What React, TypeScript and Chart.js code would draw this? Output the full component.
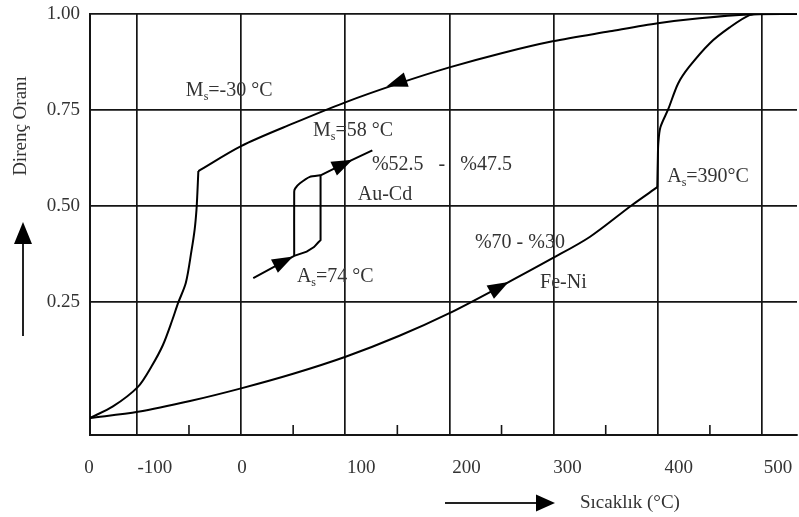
import { useEffect, useRef } from "react";
import { Chart, registerables } from "chart.js";

Chart.register(...registerables);

// ---- axes ----
const xMin = -145;
const xMax = 533.6;
const yMin = -0.0964;
const yMax = 1.0;
const xTickValues = [-145, -100, 0, 100, 200, 300, 400, 500];
const xTickLabels = ["0", "-100", "0", "100", "200", "300", "400", "500"];
const xMinorTicks = [-50, 50, 150, 250, 350, 450];
const yTickValues = [0.25, 0.5, 0.75, 1.0];
const yTickLabels = ["0.25", "0.50", "0.75", "1.00"];
const yTitle = "Direnç Oranı";
const xTitle = "Sıcaklık (°C)";

// ---- series (temperature °C, resistance ratio) ----
// Fe-Ni cooling: upper branch, then the drop below Ms
const feNiCoolingUpper: [number, number][] = [
  [534, 1.0], [488, 0.999], [440, 0.989], [400, 0.976], [354, 0.955],
  [299, 0.929], [250, 0.898], [200, 0.861], [150, 0.818], [100, 0.77],
  [50, 0.715], [0, 0.656], [-41, 0.591],
];
const feNiCoolingDrop: [number, number][] = [
  [-41, 0.591], [-42, 0.53], [-42.8, 0.49], [-44.5, 0.44],
  [-47.5, 0.385], [-53, 0.3], [-60.5, 0.247], [-66, 0.203], [-75, 0.138],
  [-86, 0.082], [-99, 0.029], [-123, -0.022], [-145, -0.052],
];
// Fe-Ni heating: lower branch, then the rise above As
const feNiHeatingLower: [number, number][] = [
  [-145, -0.052], [-99, -0.036], [-49, -0.008], [0, 0.025], [50, 0.063],
  [101, 0.108], [152, 0.162], [200, 0.221], [248, 0.289], [299, 0.364],
  [335, 0.42], [375, 0.502], [399.5, 0.549],
];
const feNiHeatingRise: [number, number][] = [
  [399.5, 0.549], [400, 0.62], [400.5, 0.664], [402.5, 0.705],
  [410, 0.752], [419.5, 0.819], [430, 0.862], [450, 0.924],
  [469, 0.965], [488, 0.997], [500, 1.0], [534, 1.0],
];
const auCdHeating: [number, number][] = [
  [11.7, 0.312], [51, 0.37], [63, 0.381], [70, 0.393], [74, 0.405],
  [76.3, 0.411], [76.3, 0.58], [98, 0.609], [126, 0.645],
];
const auCdCooling: [number, number][] = [
  [76.3, 0.58], [66, 0.576], [56.5, 0.559], [52, 0.546], [51, 0.537], [51, 0.37],
];

// ---- direction arrows on the curves: position and a point it heads toward ----
const arrowMarks = [
  { at: [149, 0.82], toward: [120, 0.793] },
  { at: [248, 0.289], toward: [275, 0.33] },
  { at: [41, 0.356], toward: [51, 0.37] },
  { at: [98, 0.609], toward: [126, 0.645] },
];

// ---- annotations ("_x" = subscript x) ----
const annotationTexts = [
  "M_s=-30 °C", "M_s=58 °C", "%52.5   -   %47.5", "Au-Cd",
  "A_s=74 °C", "A_s=390°C", "%70 - %30", "Fe-Ni",
];
const annotationAnchors: [number, number][] = [
  [-53, 0.801], [69, 0.697], [125.6, 0.607], [112, 0.528],
  [53.6, 0.315], [409, 0.575], [224.5, 0.403], [287, 0.299],
];

const FONT = '"Liberation Serif", "Times New Roman", serif';
const TEXT = "#333";
const INK = "#151515";

function drawRichText(ctx: CanvasRenderingContext2D, text: string, x: number, y: number, size: number) {
  const segs = text.split(/_(.)/);
  let cx = x;
  segs.forEach((seg, i) => {
    if (!seg) return;
    if (i % 2 === 1) {
      ctx.font = `${Math.round(size * 0.6)}px ${FONT}`;
      ctx.fillText(seg, cx, y + size * 0.3);
    } else {
      ctx.font = `${size}px ${FONT}`;
      ctx.fillText(seg, cx, y);
    }
    cx += ctx.measureText(seg).width;
  });
}

const overlayPlugin = {
  id: "overlay",
  afterDraw(chart: any) {
    const { ctx, chartArea } = chart;
    const xs = chart.scales.x;
    const ys = chart.scales.y;
    ctx.save();

    // minor ticks on the bottom axis
    ctx.strokeStyle = INK;
    ctx.lineWidth = 1.6;
    xMinorTicks.forEach((v) => {
      const px = xs.getPixelForValue(v);
      ctx.beginPath();
      ctx.moveTo(px, chartArea.bottom);
      ctx.lineTo(px, chartArea.bottom - 10);
      ctx.stroke();
    });

    // arrowheads on curves
    ctx.fillStyle = "#000";
    arrowMarks.forEach((a) => {
      const px = xs.getPixelForValue(a.at[0]);
      const py = ys.getPixelForValue(a.at[1]);
      const tx = xs.getPixelForValue(a.toward[0]);
      const ty = ys.getPixelForValue(a.toward[1]);
      const d = Math.hypot(tx - px, ty - py) || 1;
      const ux = (tx - px) / d;
      const uy = (ty - py) / d;
      const L = 21;
      const W = 7.5;
      const tipX = px + (ux * L) / 2;
      const tipY = py + (uy * L) / 2;
      const bx = px - (ux * L) / 2;
      const by = py - (uy * L) / 2;
      ctx.beginPath();
      ctx.moveTo(tipX, tipY);
      ctx.lineTo(bx - uy * W, by + ux * W);
      ctx.lineTo(bx + uy * W, by - ux * W);
      ctx.closePath();
      ctx.fill();
    });

    // annotations
    ctx.fillStyle = TEXT;
    ctx.textBaseline = "middle";
    ctx.textAlign = "left";
    annotationTexts.forEach((t, i) => {
      const [vx, vy] = annotationAnchors[i];
      drawRichText(ctx, t, xs.getPixelForValue(vx), ys.getPixelForValue(vy), 20);
    });

    // x tick labels
    const xNudge = [-1, 18, 1, 16, 17, 14, 21, 16];
    ctx.font = `19px ${FONT}`;
    ctx.textAlign = "center";
    xTickValues.forEach((v, i) => {
      ctx.fillText(xTickLabels[i], xs.getPixelForValue(v) + xNudge[i], chartArea.bottom + 33);
    });

    // y tick labels
    ctx.textAlign = "right";
    yTickValues.forEach((v, i) => {
      ctx.fillText(yTickLabels[i], chartArea.left - 10, ys.getPixelForValue(v));
    });

    // y title + arrow
    ctx.save();
    ctx.translate(21, 126);
    ctx.rotate(-Math.PI / 2);
    ctx.textAlign = "center";
    ctx.font = `19px ${FONT}`;
    ctx.fillText(yTitle, 0, 0);
    ctx.restore();
    ctx.strokeStyle = "#222";
    ctx.lineWidth = 2;
    ctx.beginPath();
    ctx.moveTo(23, 336);
    ctx.lineTo(23, 240);
    ctx.stroke();
    ctx.fillStyle = "#000";
    ctx.beginPath();
    ctx.moveTo(23, 222);
    ctx.lineTo(14, 244);
    ctx.lineTo(32, 244);
    ctx.closePath();
    ctx.fill();

    // x title + arrow
    ctx.beginPath();
    ctx.moveTo(445, 503);
    ctx.lineTo(540, 503);
    ctx.stroke();
    ctx.beginPath();
    ctx.moveTo(555, 503);
    ctx.lineTo(536, 494.5);
    ctx.lineTo(536, 511.5);
    ctx.closePath();
    ctx.fill();
    ctx.fillStyle = TEXT;
    ctx.textAlign = "left";
    ctx.font = `19px ${FONT}`;
    ctx.fillText(xTitle, 580, 503);

    ctx.restore();
  },
};

const toPoints = (arr: [number, number][]) => arr.map(([x, y]) => ({ x, y }));

export default function App() {
  const canvasRef = useRef<HTMLCanvasElement | null>(null);

  useEffect(() => {
    if (!canvasRef.current) return;
    const line = (data: [number, number][], tension: number) => ({
      data: toPoints(data),
      showLine: true,
      borderColor: "#000",
      borderWidth: 2,
      pointRadius: 0,
      tension,
      fill: false,
    });
    const chart = new Chart(canvasRef.current, {
      type: "scatter",
      data: {
        datasets: [
          line(feNiCoolingUpper, 0.3),
          line(feNiCoolingDrop, 0.3),
          line(feNiHeatingLower, 0.3),
          line(feNiHeatingRise, 0.3),
          line(auCdHeating, 0),
          line(auCdCooling, 0.15),
        ],
      },
      options: {
        animation: false,
        responsive: true,
        maintainAspectRatio: false,
        layout: { padding: { left: 0, top: 14, right: 2, bottom: 0 } },
        plugins: { legend: { display: false }, tooltip: { enabled: false } },
        events: [],
        scales: {
          x: {
            type: "linear",
            min: xMin,
            max: xMax,
            afterBuildTicks: (s: any) => {
              s.ticks = xTickValues.map((v) => ({ value: v }));
            },
            afterFit: (s: any) => {
              s.height = 82;
            },
            ticks: { display: false },
            grid: { color: INK, lineWidth: 1.7, drawTicks: false },
            border: { display: true, color: INK, width: 2 },
          },
          y: {
            type: "linear",
            min: yMin,
            max: yMax,
            afterBuildTicks: (s: any) => {
              s.ticks = yTickValues.map((v) => ({ value: v }));
            },
            afterFit: (s: any) => {
              s.width = 90;
            },
            ticks: { display: false },
            grid: { color: INK, lineWidth: 1.7, drawTicks: false },
            border: { display: true, color: INK, width: 2 },
          },
        },
      },
      plugins: [overlayPlugin],
    });
    return () => chart.destroy();
  }, []);

  return (
    <div style={{ position: "fixed", left: 0, top: 0, width: 799, height: 517, background: "#fff" }}>
      <canvas ref={canvasRef} />
    </div>
  );
}
